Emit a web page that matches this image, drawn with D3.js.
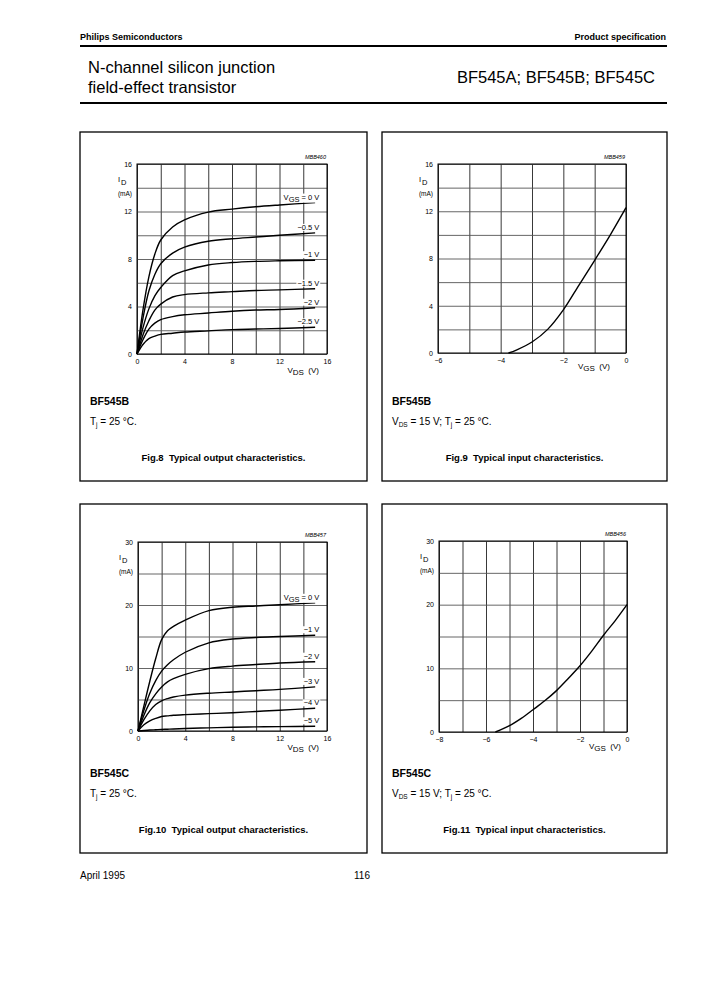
<!DOCTYPE html>
<html>
<head>
<meta charset="utf-8">
<script src="https://cdn.jsdelivr.net/npm/d3@7"></script>
<style>
  body { margin: 0; background: #fff; }
  text { font-family: "Liberation Sans", Arial, sans-serif; fill: #000; }
</style>
</head>
<body>
<script>
// ---- data ----
// Fig.8  BF545B output characteristics, ID (mA) vs VDS (V)
var vdsPoints = [0, 0.5, 1, 1.5, 2, 3, 4, 6, 8, 10, 12, 15];
var fig8Labels = ["0 V", "\u22120.5 V", "\u22121 V", "\u22121.5 V", "\u22122 V", "\u22122.5 V"];
var fig8Id0   = [0, 3.7, 6.5, 8.4, 9.6, 10.7, 11.3, 11.95, 12.2, 12.4, 12.55, 12.75];
var fig8Id05  = [0, 3.0, 5.3, 6.7, 7.6, 8.5, 9.0, 9.5, 9.7, 9.85, 10.0, 10.2];
var fig8Id1   = [0, 2.2, 3.8, 4.9, 5.6, 6.6, 7.0, 7.5, 7.7, 7.8, 7.85, 7.9];
var fig8Id15  = [0, 1.6, 2.8, 3.7, 4.2, 4.8, 5.0, 5.15, 5.25, 5.35, 5.4, 5.5];
var fig8Id2   = [0, 1.2, 2.1, 2.6, 2.9, 3.15, 3.3, 3.45, 3.6, 3.7, 3.75, 3.9];
var fig8Id25  = [0, 0.8, 1.3, 1.5, 1.65, 1.75, 1.85, 1.95, 2.05, 2.1, 2.15, 2.25];

// Fig.9  BF545B input characteristic, ID (mA) vs VGS (V)
var fig9Vgs = [-3.75, -3.5, -3, -2.5, -2, -1.5, -1, -0.5, 0];
var fig9Id  = [0, 0.25, 0.93, 2.0, 3.65, 5.75, 7.85, 10.0, 12.3];

// Fig.10 BF545C output characteristics
var fig10Vds = [0, 0.5, 1, 1.5, 2, 2.5, 3, 4, 6, 8, 10, 12, 15];
var fig10Labels = ["0 V", "\u22121 V", "\u22122 V", "\u22123 V", "\u22124 V", "\u22125 V"];
var fig10Id0 = [0, 4.0, 7.9, 11.5, 14.5, 15.9, 16.6, 17.6, 19.1, 19.65, 19.85, 20.05, 20.35];
var fig10Id1 = [0, 3.3, 6.0, 8.0, 9.5, 10.5, 11.3, 12.5, 14.0, 14.6, 14.85, 15.0, 15.2];
var fig10Id2 = [0, 2.5, 4.5, 5.9, 7.0, 7.8, 8.3, 9.0, 9.9, 10.3, 10.55, 10.8, 11.0];
var fig10Id3 = [0, 1.8, 3.2, 4.2, 4.8, 5.15, 5.4, 5.7, 6.0, 6.2, 6.4, 6.6, 7.0];
var fig10Id4 = [0, 1.0, 1.6, 2.0, 2.3, 2.4, 2.5, 2.6, 2.75, 2.9, 3.1, 3.3, 3.6];
var fig10Id5 = [0, 0.08, 0.15, 0.2, 0.25, 0.28, 0.32, 0.4, 0.5, 0.6, 0.65, 0.7, 0.75];

// Fig.11 BF545C input characteristic
var fig11Vgs = [-5.6, -5, -4.5, -4, -3.5, -3, -2.5, -2, -1.5, -1, -0.5, 0];
var fig11Id  = [0, 1.0, 2.15, 3.5, 4.9, 6.5, 8.4, 10.4, 12.7, 15.2, 17.5, 20.0];

// axis ticks
var outXTicks = [0, 4, 8, 12, 16];
var fig8YTicks = [0, 4, 8, 12, 16];
var fig9XTicks = [-6, -4, -2, 0];
var fig10YTicks = [0, 10, 20, 30];
var fig11XTicks = [-8, -6, -4, -2, 0];

var W = 703, H = 988;
var svg = d3.select("body").append("svg").attr("width", W).attr("height", H);
svg.append("rect").attr("width", W).attr("height", H).attr("fill", "#fff");

function fmt(d) { return d < 0 ? "\u2212" + Math.abs(d) : String(d); }
function zip(xs, ys) { return xs.map(function(v, i) { return [v, ys[i]]; }); }

// ---- page header ----
svg.append("text").attr("x", 80).attr("y", 40).attr("font-size", 9).attr("font-weight", "bold")
  .text("Philips Semiconductors");
svg.append("text").attr("x", 666).attr("y", 40).attr("font-size", 9).attr("font-weight", "bold")
  .attr("text-anchor", "end").text("Product specification");
svg.append("line").attr("x1", 80).attr("x2", 667).attr("y1", 46).attr("y2", 46)
  .attr("stroke", "#000").attr("stroke-width", 2);
svg.append("text").attr("x", 88).attr("y", 73).attr("font-size", 16.5).text("N-channel silicon junction");
svg.append("text").attr("x", 88).attr("y", 93).attr("font-size", 16.5).text("field-effect transistor");
svg.append("text").attr("x", 655).attr("y", 83).attr("font-size", 16.5).attr("text-anchor", "end")
  .text("BF545A; BF545B; BF545C");
svg.append("line").attr("x1", 80).attr("x2", 667).attr("y1", 103).attr("y2", 103)
  .attr("stroke", "#000").attr("stroke-width", 2);

// footer
svg.append("text").attr("x", 80).attr("y", 879).attr("font-size", 10).text("April 1995");
svg.append("text").attr("x", 362).attr("y", 879).attr("font-size", 10).attr("text-anchor", "middle").text("116");

function drawPanel(p) {
  var g = svg.append("g");
  // frame
  g.append("rect").attr("x", p.box[0]).attr("y", p.box[1])
    .attr("width", p.box[2] - p.box[0]).attr("height", p.box[3] - p.box[1])
    .attr("fill", "none").attr("stroke", "#000").attr("stroke-width", 1.3);

  var x = d3.scaleLinear().domain(p.xDomain).range([p.plot[0], p.plot[2]]);
  var y = d3.scaleLinear().domain(p.yDomain).range([p.plot[3], p.plot[1]]);
  var pw = p.plot[2] - p.plot[0], ph = p.plot[3] - p.plot[1];

  // grid
  g.append("g").attr("transform", "translate(0," + p.plot[3] + ")")
    .call(d3.axisBottom(x).tickValues(d3.range(p.xDomain[0], p.xDomain[1] + 0.001, p.xStep))
      .tickSize(-ph).tickFormat(""))
    .call(function(a) { a.select(".domain").remove(); a.selectAll("line").attr("stroke", "#222").attr("stroke-width", 0.9); });
  g.append("g").attr("transform", "translate(" + p.plot[0] + ",0)")
    .call(d3.axisLeft(y).tickValues(d3.range(p.yDomain[0], p.yDomain[1] + 0.001, p.yStep))
      .tickSize(-pw).tickFormat(""))
    .call(function(a) { a.select(".domain").remove(); a.selectAll("line").attr("stroke", "#555").attr("stroke-width", 0.9); });
  g.append("rect").attr("x", p.plot[0]).attr("y", p.plot[1]).attr("width", pw).attr("height", ph)
    .attr("fill", "none").attr("stroke", "#000").attr("stroke-width", 1);

  // tick labels
  g.append("g").attr("transform", "translate(0," + p.plot[3] + ")")
    .call(d3.axisBottom(x).tickValues(p.xTicks).tickSize(0).tickPadding(5).tickFormat(fmt))
    .call(function(a) { a.select(".domain").remove(); a.selectAll("text").attr("font-size", 7).attr("font-family", null); });
  g.append("g").attr("transform", "translate(" + p.plot[0] + ",0)")
    .call(d3.axisLeft(y).tickValues(p.yTicks).tickSize(0).tickPadding(5).tickFormat(fmt))
    .call(function(a) { a.select(".domain").remove(); a.selectAll("text").attr("font-size", 7).attr("font-family", null); });

  // axis titles
  var yl = g.append("text").attr("x", p.plot[0] - 19).attr("y", p.plot[1] + 18).attr("font-size", 7.5);
  yl.append("tspan").text("I");
  yl.append("tspan").attr("dy", 3).attr("dx", 1).attr("font-size", 7.5).text("D");
  g.append("text").attr("x", p.plot[0] - 12).attr("y", p.plot[1] + 32).attr("font-size", 6.5)
    .attr("text-anchor", "middle").text("(mA)");
  var xl = g.append("text").attr("x", p.xLabelX).attr("y", p.plot[3] + p.xLabelDy).attr("font-size", 8)
    .attr("text-anchor", "end").attr("xml:space", "preserve");
  xl.append("tspan").text("V");
  xl.append("tspan").attr("dy", 2).text(p.xSub);
  xl.append("tspan").attr("dy", -2).text("  (V)");

  // figure code
  g.append("text").attr("x", p.plot[2] - 1).attr("y", p.plot[1] - 5).attr("font-size", 5.5)
    .attr("font-style", "italic").attr("text-anchor", "end").text(p.code);

  // curves
  var line = d3.line().x(function(d) { return x(d[0]); }).y(function(d) { return y(d[1]); })
    .curve(d3.curveCatmullRom.alpha(0.5));
  p.series.forEach(function(s, i) {
    var pts = zip(p.xs, s);
    g.append("path").attr("d", line(pts)).attr("fill", "none")
      .attr("stroke", "#000").attr("stroke-width", 1.4);
    if (p.labels) {
      var last = pts[pts.length - 1];
      var bg = g.append("rect").attr("fill", "#fff");
      var t = g.append("text").attr("x", x(15.35)).attr("y", y(last[1]) - 3)
        .attr("font-size", 7.5).attr("text-anchor", "end");
      if (i === 0) {
        t.append("tspan").text("V");
        t.append("tspan").attr("dy", 2).text("GS");
        t.append("tspan").attr("dy", -2).text(" = " + p.labels[i]);
      } else {
        t.text(p.labels[i]);
      }
      var bb = t.node().getBBox();
      bg.attr("x", bb.x - 1).attr("y", bb.y + 1).attr("width", bb.width + 2).attr("height", bb.height - 2);
    }
  });

  // captions
  var cx = p.box[0] + 10;
  g.append("text").attr("x", cx).attr("y", p.box[1] + 273).attr("font-size", 10.5)
    .attr("font-weight", "bold").text(p.type);
  var c = g.append("text").attr("x", cx).attr("y", p.box[1] + 293).attr("font-size", 10);
  if (p.vds) {
    c.append("tspan").text("V");
    c.append("tspan").attr("dy", 2).attr("font-size", 6.5).text("DS");
    c.append("tspan").attr("dy", -2).text(" = 15 V; T");
  } else {
    c.append("tspan").text("T");
  }
  c.append("tspan").attr("dy", 2).attr("font-size", 6.5).text("j");
  c.append("tspan").attr("dy", -2).text(" = 25 \u00b0C.");
  g.append("text").attr("x", (p.box[0] + p.box[2]) / 2).attr("y", p.box[1] + 329).attr("font-size", 9.5)
    .attr("font-weight", "bold").attr("text-anchor", "middle").attr("xml:space", "preserve")
    .text(p.caption);
}

drawPanel({
  box: [80, 132, 367, 481], plot: [137, 164, 327, 354],
  xDomain: [0, 16], yDomain: [0, 16], xStep: 2, yStep: 2,
  xTicks: outXTicks, yTicks: fig8YTicks,
  xLabelX: 319, xLabelDy: 19, xSub: "DS", code: "MBB460",
  xs: vdsPoints, series: [fig8Id0, fig8Id05, fig8Id1, fig8Id15, fig8Id2, fig8Id25], labels: fig8Labels,
  type: "BF545B", vds: false, caption: "Fig.8  Typical output characteristics."
});
drawPanel({
  box: [382, 132, 667, 481], plot: [438, 164, 626, 353],
  xDomain: [-6, 0], yDomain: [0, 16], xStep: 1, yStep: 2,
  xTicks: fig9XTicks, yTicks: fig8YTicks,
  xLabelX: 610, xLabelDy: 16, xSub: "GS", code: "MBB459",
  xs: fig9Vgs, series: [fig9Id], labels: null,
  type: "BF545B", vds: true, caption: "Fig.9  Typical input characteristics."
});
drawPanel({
  box: [80, 504, 367, 853], plot: [138, 542, 327, 731],
  xDomain: [0, 16], yDomain: [0, 30], xStep: 2, yStep: 5,
  xTicks: outXTicks, yTicks: fig10YTicks,
  xLabelX: 319, xLabelDy: 19, xSub: "DS", code: "MBB457",
  xs: fig10Vds, series: [fig10Id0, fig10Id1, fig10Id2, fig10Id3, fig10Id4, fig10Id5], labels: fig10Labels,
  type: "BF545C", vds: false, caption: "Fig.10  Typical output characteristics."
});
drawPanel({
  box: [382, 504, 667, 853], plot: [439, 541, 627, 732],
  xDomain: [-8, 0], yDomain: [0, 30], xStep: 1, yStep: 5,
  xTicks: fig11XTicks, yTicks: fig10YTicks,
  xLabelX: 621, xLabelDy: 17, xSub: "GS", code: "MBB456",
  xs: fig11Vgs, series: [fig11Id], labels: null,
  type: "BF545C", vds: true, caption: "Fig.11  Typical input characteristics."
});
</script>
</body>
</html>
